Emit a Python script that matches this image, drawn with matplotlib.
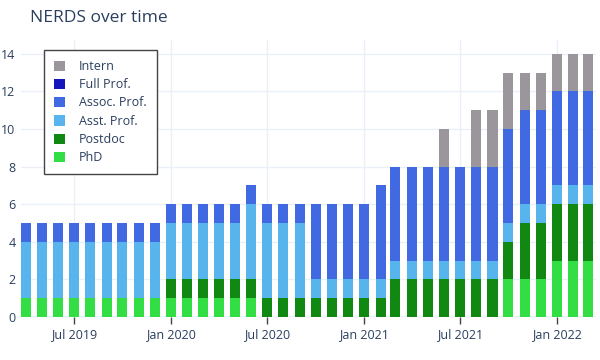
import datetime as dt
import numpy as np
import matplotlib
matplotlib.use("Agg")
from matplotlib import pyplot as plt
import matplotlib.dates as mdates

plt.rcParams['font.family'] = ['Open Sans', 'DejaVu Sans']

# monthly snapshots, Apr 2019 .. Mar 2022
months = [dt.date(2019 + (3 + i) // 12, (3 + i) % 12 + 1, 1) for i in range(36)]

phd      = [1]*9 + [1]*5 + [1] + [0]*3 + [0]*4 + [0] + [0]*7 + [2]*3 + [3]*3
postdoc  = [0]*9 + [1]*5 + [1] + [1]*3 + [1]*4 + [1] + [2]*7 + [2, 3, 3] + [3]*3
asst     = [3]*9 + [3]*5 + [4] + [4]*3 + [1]*4 + [1] + [1]*7 + [1]*3 + [1]*3
assoc    = [1]*9 + [1]*5 + [1] + [1]*3 + [4]*4 + [5] + [5]*7 + [5]*3 + [5]*3
full     = [0]*36
intern   = [0]*9 + [0]*5 + [0] + [0]*3 + [0]*4 + [0] + [0, 0, 0, 2, 0, 3, 3] + [3, 2, 2] + [2]*3

series = [
    ("PhD", phd, "#33dd44"),
    ("Postdoc", postdoc, "#118811"),
    ("Asst. Prof.", asst, "#58b4ec"),
    ("Assoc. Prof.", assoc, "#4169e1"),
    ("Full Prof.", full, "#1515bd"),
    ("Intern", intern, "#9b959c"),
]

txt = "#2a3f5f"
grid = "#ebf0f8"

fig = plt.figure(figsize=(6, 3.6), dpi=100)
ax = fig.add_axes([21/600, 43/360, 575/600, 277/360])

x = mdates.date2num(months)
bottom = np.zeros(len(months))
handles = []
for name, vals, col in series:
    vals = np.array(vals, dtype=float)
    h = ax.bar(x, vals, width=19, bottom=bottom, color=col, label=name, zorder=3, linewidth=0)
    handles.append(h)
    bottom += vals

ax.set_xlim(mdates.date2num(dt.date(2019, 3, 23)), mdates.date2num(dt.date(2022, 3, 16)))
ax.set_ylim(0, 14.74)
ax.set_yticks(range(0, 15, 2))
ticks = [dt.date(2019, 7, 1), dt.date(2020, 1, 1), dt.date(2020, 7, 1),
         dt.date(2021, 1, 1), dt.date(2021, 7, 1), dt.date(2022, 1, 1)]
ax.set_xticks(mdates.date2num(ticks))
ax.set_xticklabels([t.strftime("%b %Y") for t in ticks])

for s in ax.spines.values():
    s.set_visible(False)
ax.grid(True, color=grid, linewidth=1, zorder=0)
ax.axhline(0, color=grid, linewidth=2, zorder=1)
ax.tick_params(axis='y', length=0, pad=4, labelsize=9, labelcolor=txt)
ax.tick_params(axis='x', length=5, width=1, color="#444444", pad=3, labelsize=9, labelcolor=txt)

fig.text(30/600, 1 - 22/360, "NERDS over time", fontsize=12.5, color=txt)

leg = fig.legend(handles[::-1], [s[0] for s in series[::-1]],
                 loc='upper left', bbox_to_anchor=(44/600, 1 - 50/360),
                 fontsize=9, frameon=True, fancybox=False, framealpha=1,
                 handlelength=0.9, handleheight=0.9, handletextpad=1.1,
                 borderpad=0.8, labelspacing=0.42, borderaxespad=0)
leg.get_frame().set_edgecolor("#444444")
leg.get_frame().set_linewidth(1)
for t in leg.get_texts():
    t.set_color(txt)

plt.savefig("out.png", dpi=100)
